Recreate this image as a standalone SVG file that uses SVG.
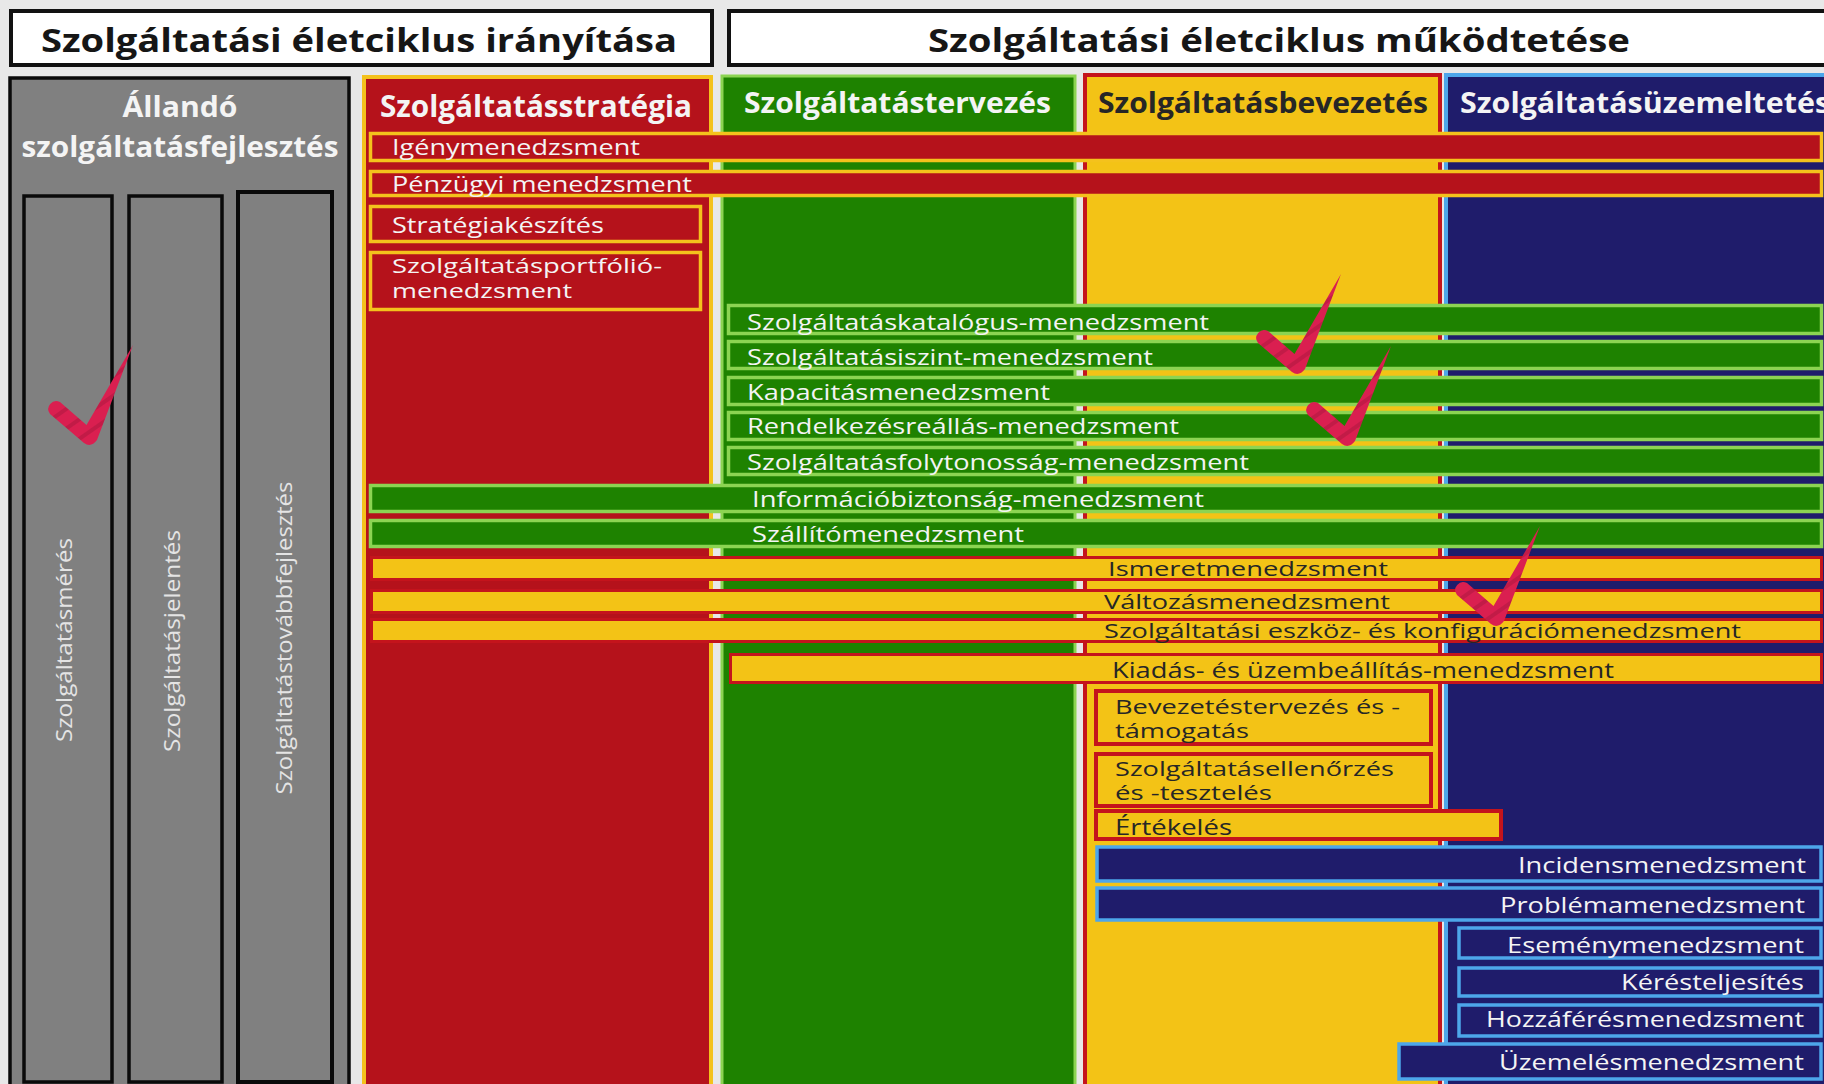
<svg xmlns="http://www.w3.org/2000/svg" width="1824" height="1084" viewBox="0 0 1824 1084">
<style>
text{font-family:"Open Sans","Liberation Sans",sans-serif}
.t{font-size:22px}
.s{font-size:20px}
.hd{font-size:33px;font-weight:bold;fill:#161616}
.ch{font-size:29px;font-weight:bold}
.w{fill:#f4f4f4}
.d{fill:#262626}
.v{font-size:22px;fill:#e4e4e4}
.rb{fill:#B5121B;stroke:#F4C21C;stroke-width:3.5}
.gb{fill:#1E8200;stroke:#8CD452;stroke-width:3.5}
.yb{fill:#F3C316;stroke:#C4141C;stroke-width:3}
.nb{fill:#1F1C6B;stroke:#4DA6EA;stroke-width:3.5}
.gr{fill:#808080;stroke:#0a0a0a;stroke-width:3.5}
.chk{fill:url(#stripes)}
</style>
<defs>
<pattern id="stripes" patternUnits="userSpaceOnUse" width="16" height="16" patternTransform="rotate(-35)">
<rect width="16" height="16" fill="#DA1F50"/>
<rect y="10" width="16" height="4" fill="#C21B47"/>
</pattern>
<path id="check" d="M -39,-23 L -5,6 Q 2,11 8,3 L 44,-92 L -2.5,-12 L -29,-35 A 8 8 0 0 0 -39,-23 Z"/>
</defs>
<rect x="0" y="0" width="1824" height="1084" fill="#e8e8e8"/>

<g id="header-iranyitas">
<rect x="11" y="11" width="701" height="54" fill="#ffffff" stroke="#111" stroke-width="4"/>
<text class="hd" x="41" y="52" textLength="636" lengthAdjust="spacingAndGlyphs">Szolgáltatási életciklus irányítása</text>
</g>
<g id="header-mukodtetes">
<rect x="729" y="11" width="1110" height="54" fill="#ffffff" stroke="#111" stroke-width="4"/>
<text class="hd" x="928" y="52" textLength="702" lengthAdjust="spacingAndGlyphs">Szolgáltatási életciklus működtetése</text>
</g>

<g id="col-allando">
<rect x="10" y="78" width="339" height="1020" class="gr"/>
<text class="ch w" x="180" y="117" text-anchor="middle" textLength="115" lengthAdjust="spacingAndGlyphs" style="font-size:28px">Állandó</text>
<text class="ch w" x="180" y="157" text-anchor="middle" textLength="317" lengthAdjust="spacingAndGlyphs" style="font-size:28px">szolgáltatásfejlesztés</text>
</g>
<g id="bar-meres">
<rect x="24" y="196" width="88" height="886" class="gr"/>
<text class="v" transform="translate(63,640) rotate(-90)" text-anchor="middle" dominant-baseline="central" textLength="204" lengthAdjust="spacingAndGlyphs">Szolgáltatásmérés</text>
</g>
<g id="bar-jelentes">
<rect x="129" y="196" width="93" height="886" class="gr"/>
<text class="v" transform="translate(171,641) rotate(-90)" text-anchor="middle" dominant-baseline="central" textLength="222" lengthAdjust="spacingAndGlyphs">Szolgáltatásjelentés</text>
</g>
<g id="bar-tovabbfejlesztes">
<rect x="238" y="192" width="94" height="890" class="gr" style="stroke-width:4"/>
<text class="v" transform="translate(283,638) rotate(-90)" text-anchor="middle" dominant-baseline="central" textLength="313" lengthAdjust="spacingAndGlyphs">Szolgáltatástovábbfejlesztés</text>
</g>

<g id="col-strategia">
<rect x="364" y="77" width="347" height="1020" fill="#B5121B" stroke="#F4C21C" stroke-width="4"/>
<text class="ch w" x="380" y="117" textLength="312" lengthAdjust="spacingAndGlyphs" style="font-size:30px">Szolgáltatásstratégia</text>
</g>
<g id="col-tervezes">
<rect x="722" y="76" width="353" height="1020" fill="#1E8200" stroke="#8CD452" stroke-width="3"/>
<text class="ch w" x="744" y="113" textLength="307" lengthAdjust="spacingAndGlyphs">Szolgáltatástervezés</text>
</g>
<g id="col-bevezetes">
<rect x="1085" y="75" width="355" height="1020" fill="#F3C316" stroke="#C4141C" stroke-width="4"/>
<text class="ch d" x="1098" y="113" textLength="330" lengthAdjust="spacingAndGlyphs">Szolgáltatásbevezetés</text>
</g>
<g id="col-uzemeltetes">
<rect x="1446" y="75" width="390" height="1020" fill="#1F1C6B" stroke="#4DA6EA" stroke-width="4"/>
<text class="ch w" x="1460" y="113" textLength="370" lengthAdjust="spacingAndGlyphs">Szolgáltatásüzemeltetés</text>
</g>

<g id="igenymenedzsment">
<rect x="370.5" y="133.5" width="1451" height="27" class="rb"/>
<text class="t w" x="392" y="155" textLength="248" lengthAdjust="spacingAndGlyphs">Igénymenedzsment</text>
</g>
<g id="penzugyi-menedzsment">
<rect x="370.5" y="171.5" width="1451" height="24" class="rb"/>
<text class="t w" x="392" y="192" textLength="300" lengthAdjust="spacingAndGlyphs">Pénzügyi menedzsment</text>
</g>
<g id="strategiakeszites">
<rect x="370.5" y="206.5" width="330" height="35" class="rb"/>
<text class="t w" x="392" y="233" textLength="212" lengthAdjust="spacingAndGlyphs">Stratégiakészítés</text>
</g>
<g id="portfolio-menedzsment">
<rect x="370.5" y="252.5" width="330" height="57" class="rb"/>
<text class="s w" x="392" y="273" textLength="270" lengthAdjust="spacingAndGlyphs">Szolgáltatásportfólió-</text>
<text class="s w" x="392" y="298" textLength="180" lengthAdjust="spacingAndGlyphs">menedzsment</text>
</g>

<g id="katalogus-menedzsment">
<rect x="728.5" y="305.5" width="1093" height="28" class="gb"/>
<text class="t w" x="747" y="330" textLength="462" lengthAdjust="spacingAndGlyphs">Szolgáltatáskatalógus-menedzsment</text>
</g>
<g id="szolgaltatasiszint-menedzsment">
<rect x="728.5" y="341.5" width="1093" height="27" class="gb"/>
<text class="t w" x="747" y="365" textLength="406" lengthAdjust="spacingAndGlyphs">Szolgáltatásiszint-menedzsment</text>
</g>
<g id="kapacitasmenedzsment">
<rect x="728.5" y="377.5" width="1093" height="27" class="gb"/>
<text class="t w" x="747" y="400" textLength="303" lengthAdjust="spacingAndGlyphs">Kapacitásmenedzsment</text>
</g>
<g id="rendelkezesreallas-menedzsment">
<rect x="728.5" y="412.5" width="1093" height="27" class="gb"/>
<text class="t w" x="747" y="434" textLength="432" lengthAdjust="spacingAndGlyphs">Rendelkezésreállás-menedzsment</text>
</g>
<g id="folytonossag-menedzsment">
<rect x="728.5" y="447.5" width="1093" height="27" class="gb"/>
<text class="t w" x="747" y="470" textLength="502" lengthAdjust="spacingAndGlyphs">Szolgáltatásfolytonosság-menedzsment</text>
</g>
<g id="informaciobiztonsag-menedzsment">
<rect x="370.5" y="485.5" width="1451" height="26" class="gb"/>
<text class="t w" x="752" y="507" textLength="452" lengthAdjust="spacingAndGlyphs">Információbiztonság-menedzsment</text>
</g>
<g id="szallitomenedzsment">
<rect x="370.5" y="520.5" width="1451" height="26" class="gb"/>
<text class="t w" x="752" y="542" textLength="272" lengthAdjust="spacingAndGlyphs">Szállítómenedzsment</text>
</g>

<g id="ismeretmenedzsment">
<rect x="371.5" y="557.5" width="1450" height="22" class="yb"/>
<text class="s d" x="1108" y="576" textLength="280" lengthAdjust="spacingAndGlyphs">Ismeretmenedzsment</text>
</g>
<g id="valtozasmenedzsment">
<rect x="371.5" y="590.5" width="1450" height="22" class="yb"/>
<text class="s d" x="1104" y="609" textLength="286" lengthAdjust="spacingAndGlyphs">Változásmenedzsment</text>
</g>
<g id="eszkoz-konfiguraciomenedzsment">
<rect x="371.5" y="619.5" width="1450" height="22" class="yb"/>
<text class="s d" x="1104" y="638" textLength="637" lengthAdjust="spacingAndGlyphs">Szolgáltatási eszköz- és konfigurációmenedzsment</text>
</g>
<g id="kiadas-uzembeallitas-menedzsment">
<rect x="730.5" y="654.5" width="1091" height="28" class="yb"/>
<text class="t d" x="1112" y="678" textLength="502" lengthAdjust="spacingAndGlyphs">Kiadás- és üzembeállítás-menedzsment</text>
</g>
<g id="bevezetestervezes-tamogatas">
<rect x="1096" y="691" width="335" height="53" class="yb" style="stroke-width:4"/>
<text class="s d" x="1115" y="714" textLength="285" lengthAdjust="spacingAndGlyphs">Bevezetéstervezés és -</text>
<text class="s d" x="1115" y="738" textLength="134" lengthAdjust="spacingAndGlyphs">támogatás</text>
</g>
<g id="ellenorzes-teszteles">
<rect x="1096" y="754" width="335" height="52" class="yb" style="stroke-width:4"/>
<text class="s d" x="1115" y="776" textLength="279" lengthAdjust="spacingAndGlyphs">Szolgáltatásellenőrzés</text>
<text class="s d" x="1115" y="800" textLength="157" lengthAdjust="spacingAndGlyphs">és -tesztelés</text>
</g>
<g id="ertekeles">
<rect x="1096" y="811" width="405" height="28" class="yb" style="stroke-width:4"/>
<text class="t d" x="1115" y="835" textLength="117" lengthAdjust="spacingAndGlyphs">Értékelés</text>
</g>

<g id="incidensmenedzsment">
<rect x="1097" y="847" width="724" height="34" class="nb"/>
<text class="t w" x="1806" y="873" text-anchor="end" textLength="288" lengthAdjust="spacingAndGlyphs">Incidensmenedzsment</text>
</g>
<g id="problemamenedzsment">
<rect x="1097" y="888" width="724" height="32" class="nb"/>
<text class="t w" x="1805" y="913" text-anchor="end" textLength="305" lengthAdjust="spacingAndGlyphs">Problémamenedzsment</text>
</g>
<g id="esemenymenedzsment">
<rect x="1459" y="928" width="362" height="30" class="nb"/>
<text class="t w" x="1804" y="953" text-anchor="end" textLength="297" lengthAdjust="spacingAndGlyphs">Eseménymenedzsment</text>
</g>
<g id="keresteljesites">
<rect x="1459" y="968" width="362" height="28" class="nb"/>
<text class="t w" x="1804" y="990" text-anchor="end" textLength="183" lengthAdjust="spacingAndGlyphs">Kérésteljesítés</text>
</g>
<g id="hozzaferesmenedzsment">
<rect x="1459" y="1005" width="362" height="31" class="nb"/>
<text class="t w" x="1804" y="1027" text-anchor="end" textLength="318" lengthAdjust="spacingAndGlyphs">Hozzáférésmenedzsment</text>
</g>
<g id="uzemelesmenedzsment">
<rect x="1399" y="1044" width="422" height="35" class="nb"/>
<text class="t w" x="1804" y="1070" text-anchor="end" textLength="305" lengthAdjust="spacingAndGlyphs">Üzemelésmenedzsment</text>
</g>

<g id="checkmarks">
<use href="#check" class="chk" transform="translate(89,437)"/>
<use href="#check" class="chk" transform="translate(1297,366)"/>
<use href="#check" class="chk" transform="translate(1347,438)"/>
<use href="#check" class="chk" transform="translate(1496,618)"/>
</g>
<g id="connectors"/>
</svg>
